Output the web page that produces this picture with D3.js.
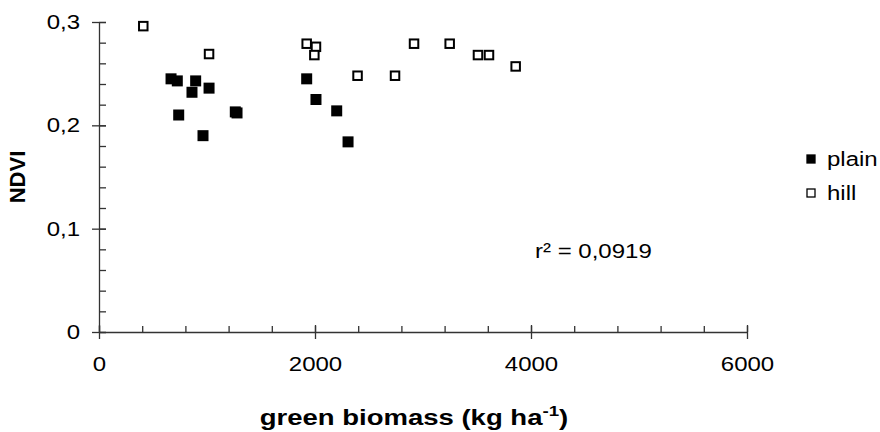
<!DOCTYPE html>
<html>
<head>
<meta charset="utf-8">
<script src="https://cdn.jsdelivr.net/npm/d3@7/dist/d3.min.js"></script>
<style>
  body { margin: 0; background: #fff; }
  text { font-family: "Liberation Sans", Arial, sans-serif; fill: #000; }
  .axis path, .axis line { stroke: #333; stroke-width: 1.3; }
</style>
</head>
<body>
<svg id="chart" width="880" height="432"></svg>
<script>
// green biomass (kg/ha) vs NDVI
const plainBiomass = [667, 725, 895, 861, 1019, 738, 963, 1262, 1278, 1923, 2009, 2201, 2306];
const plainNdvi = [0.245, 0.243, 0.243, 0.232, 0.236, 0.210, 0.190, 0.213, 0.212, 0.245, 0.225, 0.214, 0.184];
const hillBiomass = [410, 1019, 1923, 2009, 1994, 2394, 2741, 2917, 3247, 3509, 3611, 3858];
const hillNdvi = [0.296, 0.269, 0.279, 0.276, 0.268, 0.248, 0.248, 0.279, 0.279, 0.268, 0.268, 0.257];

const xTicks = [0, 2000, 4000, 6000];
const xMinorTicks = d3.range(0, 6001, 400);
const yTicks = [0, 0.1, 0.2, 0.3];
const yMinorTicks = d3.range(0, 0.3001, 0.02);
const seriesNames = ['plain', 'hill'];
const fitLabel = 'r² = 0,0919';

const plotLeft = 99, plotRight = 747, plotTop = 22, plotBottom = 332;
const stretchK = 1.2;   // source text is wider than it is tall

const svg = d3.select('#chart');
const x = d3.scaleLinear().domain([0, 6000]).range([plotLeft, plotRight]);
const y = d3.scaleLinear().domain([0, 0.3]).range([plotBottom, plotTop]);
const comma = d3.formatLocale({ decimal: ',', thousands: '', grouping: [3], currency: ['', ''] }).format('');

// widen glyphs horizontally, keeping the anchor
const stretch = (sel, k = stretchK) => {
  sel.each(function () {
    const len = this.getComputedTextLength();
    d3.select(this).attr('textLength', len * k).attr('lengthAdjust', 'spacingAndGlyphs');
  });
};

// minor ticks on the inside
svg.append('g')
  .attr('class', 'axis')
  .attr('transform', `translate(0,${plotBottom})`)
  .call(d3.axisTop(x).tickValues(xMinorTicks).tickSize(6).tickFormat(''))
  .call(g => g.select('.domain').remove());
svg.append('g')
  .attr('class', 'axis')
  .attr('transform', `translate(${plotLeft},0)`)
  .call(d3.axisRight(y).tickValues(yMinorTicks).tickSize(7).tickFormat(''))
  .call(g => g.select('.domain').remove());

// major ticks crossing the axis, with labels
const xAxis = svg.append('g')
  .attr('class', 'axis')
  .attr('transform', `translate(0,${plotBottom})`)
  .call(d3.axisBottom(x).tickValues(xTicks).tickSize(7).tickSizeOuter(0).tickPadding(32).tickFormat(d3.format('d')));
xAxis.selectAll('.tick line').attr('y1', -7);
xAxis.selectAll('text').attr('font-size', 20).attr('dy', 0).call(stretch);

const yAxis = svg.append('g')
  .attr('class', 'axis')
  .attr('transform', `translate(${plotLeft},0)`)
  .call(d3.axisLeft(y).tickValues(yTicks).tickSize(7).tickSizeOuter(0).tickPadding(12).tickFormat(d => comma(d)));
yAxis.selectAll('.tick line').attr('x1', 7);
yAxis.selectAll('text').attr('font-size', 20).attr('dy', '0.33em').call(stretch);

// axis titles
const xTitle = svg.append('text')
  .attr('x', 414).attr('y', 425)
  .attr('text-anchor', 'middle')
  .attr('font-size', 22).attr('font-weight', 'bold');
xTitle.append('tspan').text('green biomass (kg ha');
xTitle.append('tspan').attr('dy', -9).attr('font-size', 15).text('-1');
xTitle.append('tspan').attr('dy', 9).text(')');
xTitle.call(stretch, 1.25);

svg.append('text')
  .attr('transform', `translate(25,${(plotTop + plotBottom) / 2}) rotate(-90)`)
  .attr('text-anchor', 'middle')
  .attr('font-size', 22).attr('font-weight', 'bold')
  .text('NDVI');

// points
const plainPts = d3.zip(plainBiomass, plainNdvi);
const hillPts = d3.zip(hillBiomass, hillNdvi);

svg.append('g').selectAll('rect')
  .data(plainPts)
  .join('rect')
  .attr('x', d => x(d[0]) - 5.5)
  .attr('y', d => y(d[1]) - 5.5)
  .attr('width', 11).attr('height', 11)
  .attr('fill', '#000');

svg.append('g').selectAll('rect')
  .data(hillPts)
  .join('rect')
  .attr('x', d => x(d[0]) - 4.25)
  .attr('y', d => y(d[1]) - 4.25)
  .attr('width', 8.5).attr('height', 8.5)
  .attr('fill', '#fff').attr('stroke', '#000').attr('stroke-width', 2);

// fit annotation
svg.append('text')
  .attr('x', 535).attr('y', 258)
  .attr('font-size', 20)
  .text(fitLabel)
  .call(stretch);

// legend
const legend = svg.append('g').selectAll('g')
  .data(seriesNames)
  .join('g')
  .attr('transform', (d, i) => `translate(811,${159 + i * 34})`);
legend.append('rect')
  .attr('x', -4).attr('y', -4)
  .attr('width', 8).attr('height', 8)
  .attr('fill', (d, i) => i === 0 ? '#000' : '#fff')
  .attr('stroke', '#000').attr('stroke-width', 1.3);
legend.append('text')
  .attr('x', 16).attr('y', 7)
  .attr('font-size', 20)
  .text(d => d)
  .call(stretch);
</script>
</body>
</html>
